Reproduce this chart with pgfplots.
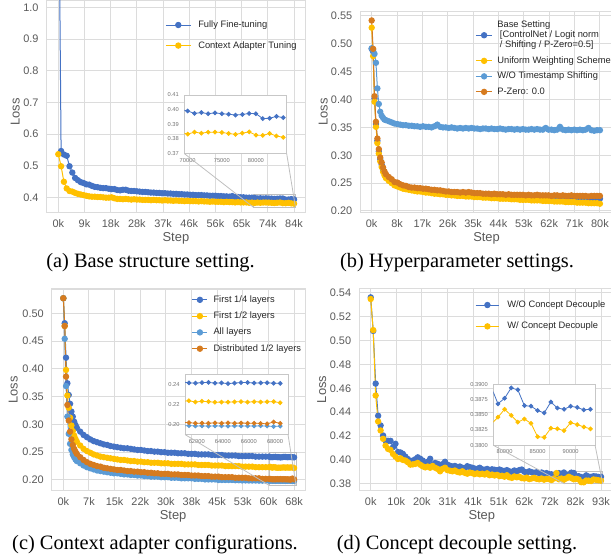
\documentclass[border=0pt]{standalone}
\usepackage{fontspec}
\setmainfont{Liberation Sans}
\newfontfamily\capfont{Liberation Serif}
\usepackage{pgfplots}
\usepackage{pgfplotstable}
\pgfplotsset{compat=1.18}

\definecolor{cblue}{HTML}{4472C4}
\definecolor{cgold}{HTML}{FFC000}
\definecolor{clblue}{HTML}{5B9BD5}
\definecolor{corange}{HTML}{D67B1F}
\definecolor{gridc}{HTML}{DCDCDC}
\colorlet{txtc}{black!65}

\pgfplotsset{
  lossax/.style={
    scale only axis, anchor=north west,
    axis line style={draw=gridc, line width=0.9pt},
    grid=major, major grid style={draw=gridc, line width=0.75pt},
    major tick length=0pt,
    tick label style={font=\fontsize{8.2}{9}\selectfont, text=txtc},
    xticklabel style={yshift=-1.3pt},
    yticklabel style={xshift=-2.5pt,
      /pgf/number format/fixed, /pgf/number format/fixed zerofill,
      /pgf/number format/precision=2, /pgf/number format/assume math mode=true},
    label style={font=\fontsize{9.7}{11}\selectfont, text=txtc},
    xlabel={Step}, ylabel={Loss},
    scaled ticks=false,
    legend cell align=left,
    legend style={draw=none, fill=none, inner sep=0pt, anchor=north west,
      font=\fontsize{7}{7.6}\selectfont, text=black!85, nodes={inner sep=0pt}},
  },
  insetax/.style={
    scale only axis, anchor=north west,
    axis background/.style={fill=white},
    axis line style={draw=black!22, line width=0.7pt},
    major tick length=0pt,
    tick label style={font=\fontsize{4.3}{5}\selectfont, text=black!55},
    yticklabel style={xshift=-0.6pt},
    xticklabel style={/pgf/number format/1000 sep={}, /pgf/number format/assume math mode=true},
    yticklabel style={/pgf/number format/fixed, /pgf/number format/fixed zerofill,
      /pgf/number format/assume math mode=true},
    scaled ticks=false, clip marker paths=true,
  },
  ser/.style={color=#1, line width=0.75pt, mark=*, mark size=2pt, mark options={solid, fill=#1, draw=#1}},
  iser/.style={color=#1, line width=0.6pt, mark=*, mark size=1.45pt, mark options={solid, fill=#1, draw=#1}},
  legimg/.style={legend image code/.code={\draw[mark repeat=2,mark phase=2,##1] plot coordinates {(0pt,0pt) (#1/2,0pt) (#1,0pt)};}},
}

% (a) base structure setting
\pgfplotstableread{
x ff ca
0 1.600 0.537
1000 0.547 0.499
2000 0.536 0.450
3000 0.532 0.429
4000 0.499 0.421
5000 0.479 0.419
6000 0.462 0.415
7000 0.455 0.412
8000 0.449 0.410
9000 0.446 0.408
10000 0.442 0.406
11000 0.441 0.404
12000 0.437 0.403
13000 0.434 0.403
14000 0.433 0.402
15000 0.431 0.402
16000 0.430 0.401
17000 0.430 0.400
18000 0.428 0.400
19000 0.427 0.401
20000 0.427 0.398
21000 0.424 0.396
22000 0.423 0.396
23000 0.425 0.395
24000 0.425 0.396
25000 0.422 0.395
26000 0.421 0.394
27000 0.421 0.395
28000 0.420 0.394
29000 0.419 0.394
30000 0.418 0.393
31000 0.418 0.393
32000 0.417 0.393
33000 0.416 0.392
34000 0.416 0.393
35000 0.415 0.392
36000 0.415 0.392
37000 0.414 0.391
38000 0.414 0.392
39000 0.413 0.391
40000 0.413 0.391
41000 0.412 0.390
42000 0.412 0.391
43000 0.411 0.390
44000 0.411 0.390
45000 0.410 0.389
46000 0.410 0.390
47000 0.409 0.389
48000 0.409 0.389
49000 0.408 0.389
50000 0.408 0.388
51000 0.408 0.389
52000 0.407 0.388
53000 0.407 0.388
54000 0.406 0.387
55000 0.406 0.388
56000 0.406 0.387
57000 0.405 0.387
58000 0.405 0.387
59000 0.404 0.386
60000 0.404 0.387
61000 0.403 0.386
62000 0.405 0.386
63000 0.402 0.385
64000 0.402 0.386
65000 0.401 0.385
66000 0.401 0.385
67000 0.400 0.385
68000 0.400 0.384
69000 0.400 0.3845
70000 0.3991 0.3833
71000 0.3974 0.3846
72000 0.3980 0.3839
73000 0.3972 0.3846
74000 0.3978 0.3846
75000 0.3972 0.3844
76000 0.3969 0.3837
77000 0.3963 0.3831
78000 0.3967 0.3839
79000 0.3974 0.3848
80000 0.3972 0.3826
81000 0.3939 0.3824
82000 0.3941 0.3837
83000 0.3954 0.3820
84000 0.3945 0.3811
}\tabA

% (b) hyperparameter settings
\pgfplotstableread{
x base unif wots pzero
0 0.491 0.529 0.492 0.542
500 0.486 0.478 0.489 0.491
1000 0.402 0.396 0.482 0.406
1500 0.356 0.351 0.466 0.360
2000 0.326 0.322 0.420 0.330
2500 0.307 0.303 0.392 0.311
3000 0.293 0.289 0.378 0.296
3500 0.283 0.279 0.371 0.287
4000 0.274 0.270 0.367 0.278
4500 0.268 0.264 0.364 0.271
5000 0.263 0.259 0.363 0.266
6000 0.258 0.254 0.361 0.261
7000 0.254 0.250 0.359 0.257
8000 0.249 0.246 0.357 0.252
9000 0.248 0.244 0.356 0.251
10000 0.245 0.242 0.355 0.248
11000 0.243 0.240 0.354 0.246
12000 0.242 0.239 0.354 0.245
13000 0.241 0.238 0.353 0.243
14000 0.240 0.237 0.353 0.242
15000 0.239 0.236 0.352 0.242
16000 0.238 0.235 0.352 0.241
17000 0.238 0.235 0.351 0.241
18000 0.237 0.234 0.352 0.240
19000 0.236 0.233 0.351 0.240
20000 0.236 0.233 0.351 0.239
21000 0.235 0.232 0.350 0.238
22000 0.234 0.231 0.352 0.238
23000 0.234 0.231 0.355 0.237
24000 0.233 0.230 0.351 0.237
25000 0.233 0.230 0.350 0.236
26000 0.232 0.229 0.350 0.235
27000 0.232 0.229 0.349 0.235
28000 0.231 0.228 0.350 0.234
29000 0.231 0.228 0.349 0.234
30000 0.230 0.227 0.348 0.234
31000 0.230 0.227 0.349 0.233
32000 0.230 0.227 0.348 0.234
33000 0.229 0.226 0.349 0.233
34000 0.229 0.226 0.348 0.234
35000 0.229 0.226 0.349 0.233
36000 0.228 0.225 0.348 0.232
37000 0.228 0.225 0.348 0.232
38000 0.228 0.225 0.347 0.232
39000 0.227 0.224 0.348 0.231
40000 0.227 0.224 0.348 0.231
41000 0.227 0.224 0.347 0.231
42000 0.226 0.223 0.348 0.230
43000 0.226 0.223 0.347 0.231
44000 0.226 0.223 0.347 0.230
45000 0.226 0.222 0.348 0.230
46000 0.225 0.222 0.347 0.230
47000 0.225 0.222 0.346 0.229
48000 0.225 0.222 0.347 0.230
49000 0.225 0.221 0.347 0.229
50000 0.224 0.221 0.346 0.229
51000 0.224 0.221 0.347 0.229
52000 0.224 0.220 0.346 0.229
53000 0.224 0.220 0.347 0.229
54000 0.224 0.220 0.346 0.228
55000 0.223 0.220 0.346 0.229
56000 0.223 0.219 0.347 0.228
57000 0.223 0.219 0.346 0.228
58000 0.223 0.219 0.347 0.229
59000 0.223 0.219 0.346 0.228
60000 0.223 0.218 0.346 0.228
61000 0.223 0.218 0.349 0.228
62000 0.222 0.218 0.346 0.228
63000 0.222 0.218 0.346 0.227
64000 0.222 0.217 0.345 0.228
65000 0.222 0.217 0.346 0.228
66000 0.222 0.217 0.351 0.227
67000 0.222 0.217 0.346 0.228
68000 0.222 0.216 0.345 0.227
69000 0.222 0.216 0.346 0.227
70000 0.222 0.216 0.345 0.228
71000 0.222 0.216 0.346 0.227
72000 0.222 0.215 0.345 0.227
73000 0.222 0.215 0.346 0.227
74000 0.222 0.215 0.345 0.227
75000 0.221 0.215 0.346 0.227
76000 0.222 0.214 0.349 0.226
77000 0.221 0.214 0.345 0.227
78000 0.222 0.214 0.344 0.227
79000 0.221 0.214 0.345 0.227
80000 0.222 0.213 0.345 0.227
}\tabB

% (c) context adapter configurations
\pgfplotstableread{
x q h all dist
0 0.527 0.527 0.527 0.527
400 0.482 0.477 0.454 0.477
800 0.420 0.398 0.369 0.386
1200 0.374 0.352 0.314 0.335
1600 0.353 0.330 0.283 0.307
2000 0.337 0.312 0.265 0.287
2400 0.323 0.298 0.254 0.273
2800 0.314 0.288 0.246 0.263
3200 0.305 0.280 0.241 0.256
3600 0.299 0.274 0.237 0.251
4000 0.294 0.269 0.234 0.247
5000 0.287 0.262 0.230 0.241
6000 0.281 0.256 0.226 0.236
7000 0.277 0.252 0.223 0.232
8000 0.273 0.249 0.221 0.229
9000 0.270 0.246 0.219 0.227
10000 0.268 0.244 0.217 0.225
11000 0.266 0.242 0.216 0.224
12000 0.264 0.241 0.215 0.222
13000 0.263 0.240 0.214 0.221
14000 0.261 0.239 0.213 0.220
15000 0.260 0.238 0.212 0.219
16000 0.259 0.237 0.212 0.218
17000 0.258 0.236 0.211 0.218
18000 0.257 0.236 0.210 0.217
19000 0.257 0.235 0.210 0.216
20000 0.256 0.234 0.209 0.216
21000 0.255 0.234 0.209 0.215
22000 0.254 0.233 0.208 0.215
23000 0.254 0.233 0.208 0.214
24000 0.253 0.232 0.207 0.214
25000 0.252 0.232 0.207 0.213
26000 0.252 0.231 0.206 0.213
27000 0.251 0.231 0.206 0.212
28000 0.251 0.231 0.206 0.212
29000 0.250 0.230 0.205 0.211
30000 0.250 0.230 0.205 0.211
31000 0.249 0.230 0.205 0.211
32000 0.249 0.229 0.204 0.210
33000 0.249 0.229 0.204 0.210
34000 0.248 0.229 0.204 0.210
35000 0.248 0.229 0.203 0.209
36000 0.248 0.228 0.203 0.209
37000 0.247 0.228 0.203 0.209
38000 0.247 0.228 0.203 0.208
39000 0.247 0.228 0.202 0.208
40000 0.246 0.227 0.202 0.208
41000 0.246 0.227 0.202 0.207
42000 0.246 0.227 0.201 0.207
43000 0.246 0.227 0.201 0.207
44000 0.245 0.226 0.201 0.206
45000 0.245 0.226 0.201 0.206
46000 0.245 0.226 0.200 0.206
47000 0.245 0.226 0.200 0.205
48000 0.244 0.225 0.200 0.205
49000 0.244 0.225 0.200 0.205
50000 0.244 0.225 0.200 0.205
51000 0.244 0.225 0.1995 0.204
52000 0.243 0.225 0.1995 0.204
53000 0.243 0.224 0.1992 0.204
54000 0.243 0.224 0.1992 0.204
55000 0.243 0.224 0.1990 0.203
56000 0.243 0.224 0.1990 0.203
57000 0.242 0.223 0.1990 0.203
58000 0.242 0.223 0.1988 0.203
59000 0.242 0.223 0.1988 0.202
60000 0.242 0.223 0.1988 0.202
61000 0.242 0.223 0.1987 0.202
61400 0.2412 0.2235 0.1988 0.2018
61900 0.2410 0.2222 0.1985 0.2012
62400 0.2414 0.2230 0.1986 0.2013
62900 0.2416 0.2226 0.1984 0.2012
63400 0.2410 0.2220 0.1986 0.2015
63900 0.2411 0.2222 0.1985 0.2012
64400 0.2405 0.2221 0.1984 0.2016
64900 0.2410 0.2224 0.1986 0.2012
65400 0.2415 0.2226 0.1985 0.2014
65900 0.2415 0.2221 0.1984 0.2012
66400 0.2410 0.2226 0.1985 0.2012
66900 0.2412 0.2222 0.1986 0.2010
67400 0.2413 0.2224 0.1984 0.2006
67900 0.2408 0.2226 0.1980 0.2025
68400 0.2407 0.2215 0.1983 0.2011
}\tabC

% (d) concept decouple setting
\pgfplotstableread{
x wo w
0 0.5361 0.5347
1000 0.5080 0.5087
2000 0.4639 0.4540
3000 0.4370 0.4322
4000 0.4289 0.4247
5000 0.4205 0.4177
6000 0.4163 0.4120
7000 0.4160 0.4092
8000 0.4160 0.4084
9000 0.4107 0.4050
10000 0.4135 0.4028
11000 0.4066 0.4008
12000 0.4063 0.4014
13000 0.4051 0.4000
14000 0.4028 0.3995
15000 0.4008 0.3981
16000 0.3989 0.3961
17000 0.3995 0.3963
18000 0.4006 0.3967
19000 0.4022 0.3975
20000 0.4010 0.3960
21000 0.3995 0.3947
22000 0.3972 0.3938
23000 0.3985 0.3945
24000 0.4010 0.3935
25000 0.3961 0.3950
26000 0.3975 0.3935
27000 0.3968 0.3925
28000 0.3955 0.3905
29000 0.3965 0.3925
30000 0.3985 0.3935
31000 0.3960 0.3915
32000 0.3952 0.3910
33000 0.3945 0.3905
34000 0.3950 0.3912
35000 0.3940 0.3900
36000 0.3945 0.3895
37000 0.3935 0.3905
38000 0.3932 0.3892
39000 0.3948 0.3885
40000 0.3940 0.3895
41000 0.3935 0.3890
42000 0.3928 0.3882
43000 0.3925 0.3888
44000 0.3935 0.3880
45000 0.3922 0.3885
46000 0.3918 0.3878
47000 0.3925 0.3888
48000 0.3915 0.3872
49000 0.3922 0.3878
50000 0.3918 0.3870
51000 0.3915 0.3875
52000 0.3920 0.3865
53000 0.3912 0.3868
54000 0.3908 0.3860
55000 0.3915 0.3872
56000 0.3905 0.3855
57000 0.3900 0.3850
58000 0.3912 0.3862
59000 0.3905 0.3855
60000 0.3915 0.3860
61000 0.3920 0.3848
62000 0.3902 0.3845
63000 0.3895 0.3852
64000 0.3905 0.3840
65000 0.3898 0.3845
66000 0.3892 0.3850
67000 0.3898 0.3842
68000 0.3890 0.3838
69000 0.3895 0.3845
70000 0.3885 0.3835
71000 0.3890 0.3842
72000 0.3882 0.3840
73000 0.3880 0.3832
74000 0.3875 0.3845
75000 0.3880 0.3890
76000 0.3890 0.3838
77000 0.3883 0.3845
78000 0.3895 0.3835
79000 0.3868 0.3846
80000 0.3877 0.3859
81000 0.3894 0.3849
82000 0.3891 0.3838
83000 0.3865 0.3843
84000 0.3864 0.3836
85000 0.3857 0.3814
86000 0.3853 0.3813
87000 0.3871 0.3828
88000 0.3861 0.3827
89000 0.3859 0.3824
90000 0.3864 0.3837
91000 0.3862 0.3834
92000 0.3858 0.3830
93000 0.3859 0.3827
}\tabD

\begin{document}
\begin{tikzpicture}

% ---------- (a)
\begin{axis}[lossax, at={(34.875pt,0pt)}, width=194.5pt, height=159.5pt,
  xmin=-4200, xmax=88200, ymin=0.3527, ymax=1.023,
  xtick={0,9333.33,18666.67,28000,37333.33,46666.67,56000,65333.33,74666.67,84000},
  xticklabels={0k,9k,18k,28k,37k,46k,56k,65k,74k,84k},
  ytick={0.4,0.5,0.6,0.7,0.8,0.9,1.0},
  yticklabel style={/pgf/number format/precision=1},
  xlabel style={at={(axis description cs:0.499,-0.119)}, anchor=center},
  ylabel style={at={(axis description cs:-0.121,0.473)}, anchor=center},
  legend style={at={(axis description cs:0.457,0.905)}, row sep=8.6pt,
    /tikz/every odd column/.append style={column sep=5.25pt}},
  legimg=18.75pt]
\addplot[ser=cblue] table[x=x, y=ff] {\tabA};
\addlegendentry{\strut Fully Fine-tuning}
\addplot[ser=cgold] table[x=x, y=ca] {\tabA};
\addlegendentry{\strut Context Adapter Tuning}
\draw[black!25, line width=0.7pt] (axis cs:69500,0.37) rectangle (axis cs:84500,0.41);
\coordinate (aL) at (axis cs:69500,0.37);
\coordinate (aR) at (axis cs:84500,0.37);
\end{axis}

% ---------- (b)
\begin{axis}[lossax, at={(270.2pt,-8.9pt)}, width=188.3pt, height=150.75pt,
  xmin=-4000, xmax=84000, ymin=0.1966, ymax=0.5574,
  xtick={0,8888.89,17777.78,26666.67,35555.56,44444.44,53333.33,62222.22,71111.11,80000},
  xticklabels={0k,8k,17k,26k,35k,44k,53k,62k,71k,80k},
  ytick={0.20,0.25,0.30,0.35,0.40,0.45,0.50,0.55},
  xlabel style={at={(axis description cs:0.503,-0.126)}, anchor=center},
  ylabel style={at={(axis description cs:-0.147,0.503)}, anchor=center},
  legend style={at={(axis description cs:0.457,0.958)}, row sep=4.8pt,
    /tikz/every odd column/.append style={column sep=3.3pt}},
  legimg=12.5pt]
\addplot[ser=cblue] table[x=x, y=base] {\tabB};
\addlegendentry{\fontsize{7}{7.6}\selectfont\begin{tabular}[b]{@{}l@{}}Base Setting\\\hspace{0.28em}[ControlNet / Logit norm\\\hspace{0.28em}/ Shifting / P-Zero=0.5]\end{tabular}}
\addplot[ser=cgold] table[x=x, y=unif] {\tabB};
\addlegendentry{\strut Uniform Weighting Scheme}
\addplot[ser=clblue] table[x=x, y=wots] {\tabB};
\addlegendentry{\strut W/O Timestamp Shifting}
\addplot[ser=corange] table[x=x, y=pzero] {\tabB};
\addlegendentry{\strut P-Zero: 0.0}
\end{axis}

% ---------- (c)
\begin{axis}[lossax, at={(38.85pt,-216.8pt)}, width=190.35pt, height=151.3pt,
  xmin=-3420, xmax=71820, ymin=0.1805, ymax=0.5435,
  xtick={0,7600,15200,22800,30400,38000,45600,53200,60800,68400},
  xticklabels={0k,7k,15k,22k,30k,38k,45k,53k,60k,68k},
  ytick={0.20,0.25,0.30,0.35,0.40,0.45,0.50},
  xlabel style={at={(axis description cs:0.478,-0.128)}, anchor=center},
  ylabel style={at={(axis description cs:-0.152,0.5)}, anchor=center},
  legend style={at={(axis description cs:0.551,0.9705)}, row sep=5.4pt,
    /tikz/every odd column/.append style={column sep=4.2pt}},
  legimg=11.25pt]
\addplot[ser=cblue] table[x=x, y=q] {\tabC};
\addlegendentry{\strut First 1/4 layers}
\addplot[ser=cgold] table[x=x, y=h] {\tabC};
\addlegendentry{\strut First 1/2 layers}
\addplot[ser=clblue] table[x=x, y=all] {\tabC};
\addlegendentry{\strut All layers}
\addplot[ser=corange] table[x=x, y=dist] {\tabC};
\addlegendentry{\strut Distributed 1/2 layers}
\draw[black!25, line width=0.7pt] (axis cs:61100,0.19) rectangle (axis cs:69000,0.25);
\coordinate (cL) at (axis cs:61100,0.19);
\coordinate (cR) at (axis cs:69000,0.19);
\end{axis}

% ---------- (d)
\begin{axis}[lossax, at={(269.4pt,-216.2pt)}, width=190pt, height=151.8pt,
  xmin=-4650, xmax=97650, ymin=0.3743, ymax=0.5437,
  xtick={0,10333.33,20666.67,31000,41333.33,51666.67,62000,72333.33,82666.67,93000},
  xticklabels={0k,10k,20k,31k,41k,51k,62k,72k,82k,93k},
  ytick={0.38,0.40,0.42,0.44,0.46,0.48,0.50,0.52,0.54},
  xlabel style={at={(axis description cs:0.484,-0.128)}, anchor=center},
  ylabel style={at={(axis description cs:-0.148,0.5)}, anchor=center},
  legend style={at={(axis description cs:0.457,0.941)}, row sep=9.2pt,
    /tikz/every odd column/.append style={column sep=5.8pt}},
  legimg=17.5pt]
\addplot[ser=cblue] table[x=x, y=wo] {\tabD};
\addlegendentry{\strut W/O Concept Decouple}
\addplot[ser=cgold] table[x=x, y=w] {\tabD};
\addlegendentry{\strut W/ Concept Decouple}
\draw[black!25, line width=0.7pt] (axis cs:78300,0.38) rectangle (axis cs:93700,0.39);
\coordinate (dL) at (axis cs:78300,0.38);
\coordinate (dR) at (axis cs:93700,0.38);
\end{axis}

% ---------- insets
\begin{axis}[insetax, name=insa, at={(138.2pt,-71.25pt)}, width=76.8pt, height=43.9pt,
  xmin=69500, xmax=84500, ymin=0.37, ymax=0.41,
  xtick={70000,75000,80000}, ytick={0.37,0.38,0.39,0.40,0.41},
  yticklabel style={/pgf/number format/precision=2}]
\addplot[iser=cblue] table[x=x, y=ff] {\tabA};
\addplot[iser=cgold] table[x=x, y=ca] {\tabA};
\end{axis}

\begin{axis}[insetax, name=insc, at={(138.75pt,-280.5pt)}, width=77.25pt, height=45.4pt,
  xmin=61100, xmax=69000, ymin=0.19, ymax=0.25,
  xtick={62000,64000,66000,68000}, ytick={0.20,0.22,0.24},
  yticklabel style={/pgf/number format/precision=2}]
\addplot[iser=cblue] table[x=x, y=q] {\tabC};
\addplot[iser=cgold] table[x=x, y=h] {\tabC};
\addplot[iser=clblue] table[x=x, y=all] {\tabC};
\addplot[iser=corange] table[x=x, y=dist] {\tabC};
\end{axis}

\begin{axis}[insetax, name=insd, at={(370pt,-288.2pt)}, width=76.3pt, height=45.75pt,
  xmin=78300, xmax=93700, ymin=0.38, ymax=0.39,
  xtick={80000,85000,90000}, ytick={0.38,0.3825,0.385,0.3875,0.39},
  yticklabel style={/pgf/number format/precision=4}]
\addplot[iser=cblue] table[x=x, y=wo] {\tabD};
\addplot[iser=cgold] table[x=x, y=w] {\tabD};
\end{axis}

\draw[black!25, line width=0.6pt] (insa.south west) -- (aL) (insa.south east) -- (aR);
\draw[black!25, line width=0.6pt] (insc.south west) -- (cL) (insc.south east) -- (cR);
\draw[black!25, line width=0.6pt] (insd.south west) -- (dL) (insd.south east) -- (dR);

% ---------- captions
\node[font=\capfont\fontsize{15.3}{17}\selectfont] at (112.9pt,-197.25pt) {(a) Base structure setting.};
\node[font=\capfont\fontsize{15.3}{17}\selectfont] at (342.75pt,-197.25pt) {(b) Hyperparameter settings.};
\node[font=\capfont\fontsize{15.3}{17}\selectfont] at (116.25pt,-408.75pt) {(c) Context adapter configurations.};
\node[font=\capfont\fontsize{15.3}{17}\selectfont] at (342.75pt,-408.75pt) {(d) Concept decouple setting.};

\pgfresetboundingbox
\path[use as bounding box] (0pt,0pt) rectangle (458.25pt,-417pt);
\end{tikzpicture}
\end{document}
